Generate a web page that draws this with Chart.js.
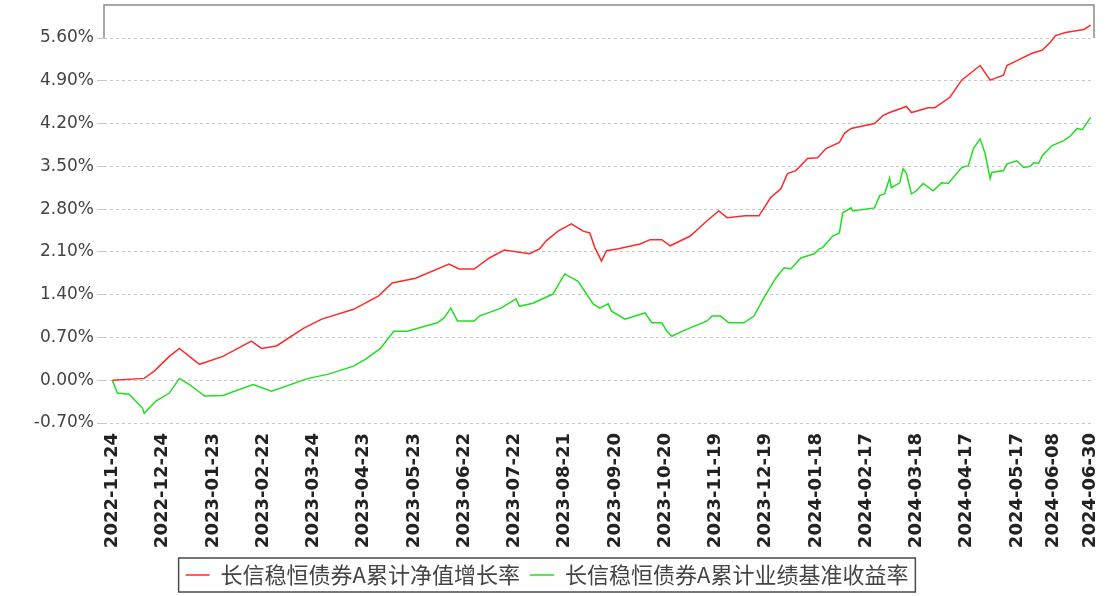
<!DOCTYPE html>
<html lang="zh">
<head>
<meta charset="UTF-8">
<title>长信稳恒债券A 累计收益率</title>
<script src="https://cdn.jsdelivr.net/npm/chart.js@4.4.1/dist/chart.umd.min.js"></script>
<style>
  html, body { margin: 0; padding: 0; background: #fff; }
</style>
</head>
<body>
<canvas id="fundChart" width="1116" height="596"></canvas>
<script>
// 累计净值增长率 (%)
const navDates = [
  '2022-11-24','2022-12-13','2022-12-19','2022-12-28','2023-01-03','2023-01-15','2023-01-29','2023-02-15',
  '2023-02-21','2023-03-02','2023-03-18','2023-03-29','2023-04-17','2023-05-02','2023-05-10','2023-05-24',
  '2023-06-13','2023-06-19','2023-06-28','2023-07-07','2023-07-16','2023-07-31','2023-08-06','2023-08-10',
  '2023-08-17','2023-08-25','2023-09-01','2023-09-05','2023-09-08','2023-09-12','2023-09-15','2023-09-22',
  '2023-10-05','2023-10-11','2023-10-18','2023-10-23','2023-11-04','2023-11-14','2023-11-21','2023-11-26',
  '2023-12-07','2023-12-15','2023-12-22','2023-12-28','2024-01-01','2024-01-06','2024-01-13','2024-01-19',
  '2024-01-24','2024-02-01','2024-02-04','2024-02-08','2024-02-22','2024-02-27','2024-03-02','2024-03-12',
  '2024-03-15','2024-03-25','2024-03-29','2024-04-07','2024-04-14','2024-04-25','2024-05-01','2024-05-09',
  '2024-05-11','2024-05-17','2024-05-26','2024-06-01','2024-06-06','2024-06-09','2024-06-15','2024-06-26',
  '2024-06-30'
];
const navValues = [
  0.00, 0.03, 0.15, 0.39, 0.52, 0.26, 0.39, 0.64,
  0.52, 0.56, 0.85, 1.00, 1.16, 1.38, 1.59, 1.67,
  1.90, 1.82, 1.82, 2.00, 2.13, 2.07, 2.15, 2.28,
  2.44, 2.56, 2.44, 2.41, 2.17, 1.95, 2.12, 2.15,
  2.23, 2.30, 2.30, 2.20, 2.36, 2.61, 2.77, 2.66,
  2.69, 2.69, 2.99, 3.13, 3.38, 3.43, 3.63, 3.64,
  3.79, 3.89, 4.04, 4.12, 4.20, 4.33, 4.38, 4.48,
  4.38, 4.46, 4.46, 4.63, 4.91, 5.15, 4.91, 4.99,
  5.15, 5.23, 5.35, 5.40, 5.53, 5.64, 5.69, 5.74,
  5.81
];

// 累计业绩基准收益率 (%)
const benchDates = [
  '2022-11-24','2022-11-27','2022-12-04','2022-12-12','2022-12-13','2022-12-20','2022-12-28','2023-01-03',
  '2023-01-09','2023-01-18','2023-01-29','2023-02-16','2023-02-27','2023-03-21','2023-04-02','2023-04-17',
  '2023-04-24','2023-05-03','2023-05-11','2023-05-19','2023-06-06','2023-06-10','2023-06-14','2023-06-18',
  '2023-06-28','2023-07-01','2023-07-14','2023-07-23','2023-07-25','2023-08-02','2023-08-14','2023-08-21',
  '2023-08-29','2023-09-07','2023-09-11','2023-09-16','2023-09-18','2023-09-26','2023-10-02','2023-10-08',
  '2023-10-12','2023-10-18','2023-10-21','2023-10-24','2023-10-30','2023-11-14','2023-11-17','2023-11-22',
  '2023-11-27','2023-12-06','2023-12-12','2023-12-18','2023-12-25','2023-12-30','2024-01-03','2024-01-09',
  '2024-01-17','2024-01-20','2024-01-22','2024-01-28','2024-02-01','2024-02-03','2024-02-08','2024-02-09',
  '2024-02-22','2024-02-25','2024-02-28','2024-03-02','2024-03-03','2024-03-08','2024-03-10','2024-03-12',
  '2024-03-15','2024-03-18','2024-03-22','2024-03-28','2024-04-02','2024-04-06','2024-04-14','2024-04-18',
  '2024-04-21','2024-04-25','2024-04-28','2024-05-01','2024-05-02','2024-05-09','2024-05-11','2024-05-17',
  '2024-05-21','2024-05-25','2024-05-27','2024-05-30','2024-06-01','2024-06-07','2024-06-14','2024-06-18',
  '2024-06-22','2024-06-25','2024-06-30'
];
const benchValues = [
  0.00, -0.21, -0.23, -0.46, -0.54, -0.34, -0.21, 0.03,
  -0.07, -0.26, -0.25, -0.07, -0.18, 0.03, 0.10, 0.23,
  0.34, 0.52, 0.80, 0.80, 0.94, 1.02, 1.18, 0.97,
  0.97, 1.05, 1.18, 1.33, 1.21, 1.26, 1.41, 1.74,
  1.62, 1.25, 1.18, 1.25, 1.13, 1.00, 1.05, 1.10,
  0.94, 0.94, 0.80, 0.72, 0.80, 0.97, 1.05, 1.05,
  0.94, 0.94, 1.05, 1.35, 1.67, 1.84, 1.82, 2.00,
  2.07, 2.15, 2.17, 2.36, 2.41, 2.74, 2.82, 2.77,
  2.82, 3.02, 3.05, 3.31, 3.15, 3.23, 3.46, 3.39,
  3.05, 3.10, 3.22, 3.10, 3.23, 3.22, 3.48, 3.51,
  3.79, 3.95, 3.71, 3.30, 3.40, 3.43, 3.54, 3.59,
  3.48, 3.50, 3.56, 3.55, 3.67, 3.84, 3.92, 4.00,
  4.12, 4.10, 4.30
];

const xTickDates = [
  '2022-11-24','2022-12-24','2023-01-23','2023-02-22','2023-03-24','2023-04-23','2023-05-23',
  '2023-06-22','2023-07-22','2023-08-21','2023-09-20','2023-10-20','2023-11-19','2023-12-19',
  '2024-01-18','2024-02-17','2024-03-18','2024-04-17','2024-05-17','2024-06-08','2024-06-30'
];
const yTicks = [-0.7, 0, 0.7, 1.4, 2.1, 2.8, 3.5, 4.2, 4.9, 5.6];

const seriesNames = ['长信稳恒债券A累计净值增长率', '长信稳恒债券A累计业绩基准收益率'];

// dates -> day index from the first date
const START = Date.parse(xTickDates[0]);
const toDay = s => Math.round((Date.parse(s) - START) / 86400000);
const toPoints = (dates, vals) => dates.map((d, i) => ({ x: toDay(d), y: vals[i] }));

// frame at the top of the plot and box around the legend
const frames = {
    id: 'frames',
    afterDraw(chart) {
        const ctx = chart.ctx;
        const area = chart.chartArea;
        const yTop = chart.scales.y.getPixelForValue(yTicks[yTicks.length - 1]);
        ctx.save();
        ctx.strokeStyle = '#8c8c8c';
        ctx.lineWidth = 1.5;
        ctx.beginPath();
        ctx.moveTo(area.left, yTop);
        ctx.lineTo(area.left, area.top);
        ctx.lineTo(area.right, area.top);
        ctx.lineTo(area.right, yTop);
        ctx.stroke();

        const boxes = chart.legend.legendHitBoxes;
        if (boxes && boxes.length) {
            let l = Infinity, r = -Infinity, t = Infinity, b = -Infinity;
            boxes.forEach(h => {
                l = Math.min(l, h.left); r = Math.max(r, h.left + h.width);
                t = Math.min(t, h.top); b = Math.max(b, h.top + h.height);
            });
            ctx.strokeStyle = '#4a4a4a';
            ctx.lineWidth = 1.5;
            ctx.strokeRect(l - 7, t - 6, r - l + 14, b - t + 12);
        }
        ctx.restore();
    }
};

new Chart(document.getElementById('fundChart'), {
    type: 'line',
    data: {
        datasets: [{
            label: seriesNames[0],
            data: toPoints(navDates, navValues),
            borderColor: '#ff2a2a',
            backgroundColor: '#ff2a2a',
            borderWidth: 1.5,
            pointRadius: 0,
            tension: 0
        }, {
            label: seriesNames[1],
            data: toPoints(benchDates, benchValues),
            borderColor: '#22dd22',
            backgroundColor: '#22dd22',
            borderWidth: 1.5,
            pointRadius: 0,
            tension: 0
        }]
    },
    options: {
        responsive: false,
        animation: false,
        layout: { padding: { top: 5, right: 22, left: 0, bottom: 0 } },
        scales: {
            x: {
                type: 'linear',
                min: -5,
                max: 586,
                afterFit: s => { s.height = 131; },
                afterBuildTicks: s => { s.ticks = xTickDates.map(d => ({ value: toDay(d) })); },
                grid: { display: false },
                border: { display: false },
                ticks: {
                    autoSkip: false,
                    maxRotation: 90,
                    minRotation: 90,
                    padding: 2,
                    color: '#222',
                    font: { family: 'DejaVu Sans', size: 18, weight: 'bold' },
                    callback: (v, i) => xTickDates[i]
                }
            },
            y: {
                min: -0.7,
                max: 6.14,
                afterFit: s => { s.width = 104; s.paddingTop = 0; s.paddingBottom = 0; },
                afterBuildTicks: s => { s.ticks = yTicks.map(v => ({ value: v })); },
                grid: { color: '#c8c8c8', tickLength: 7, lineWidth: 1 },
                border: { display: false, dash: [3, 3] },
                ticks: {
                    padding: 3,
                    color: '#444',
                    font: { family: 'DejaVu Sans', size: 17 },
                    callback: v => v.toFixed(2) + '%'
                }
            }
        },
        plugins: {
            legend: {
                position: 'bottom',
                labels: {
                    usePointStyle: true,
                    pointStyle: 'line',
                    pointStyleWidth: 24,
                    boxHeight: 22,
                    padding: 10,
                    color: '#444',
                    font: { family: 'Noto Sans CJK SC', size: 22 }
                }
            },
            tooltip: { enabled: false }
        }
    },
    plugins: [frames]
});
</script>
</body>
</html>
